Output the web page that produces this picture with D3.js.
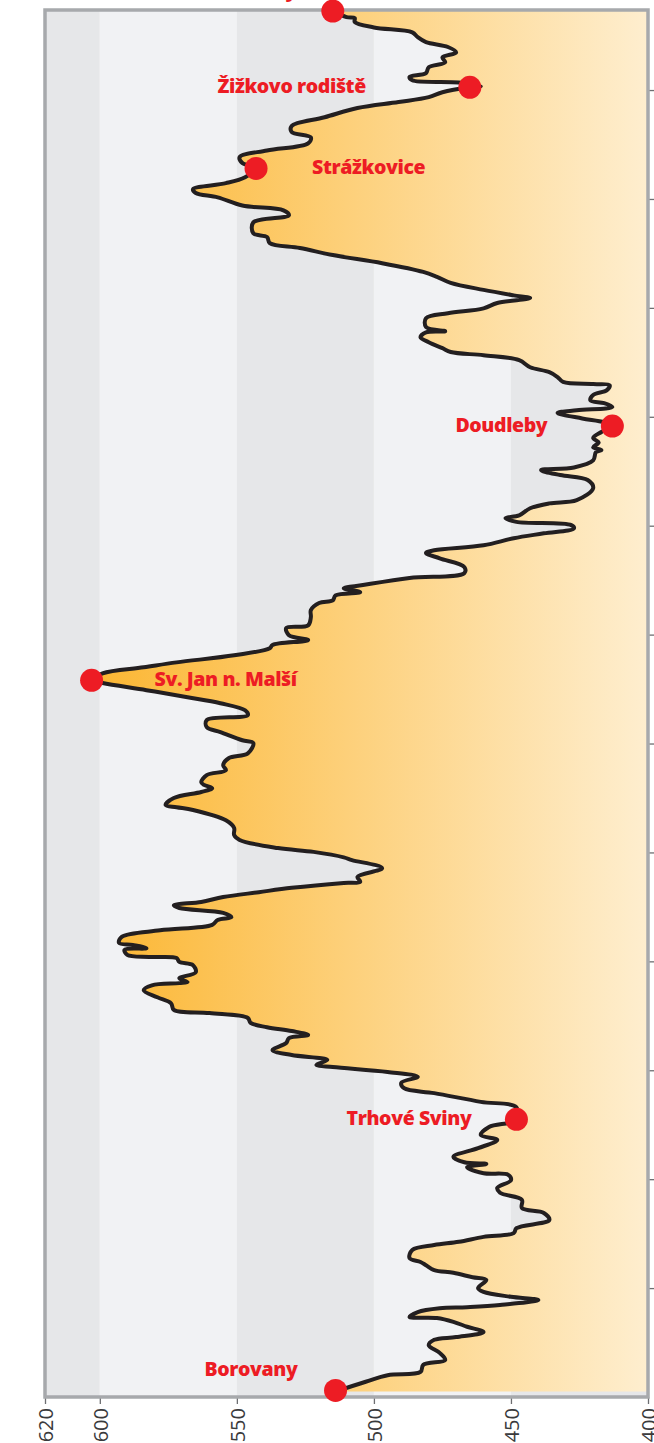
<!DOCTYPE html>
<html>
<head>
<meta charset="utf-8">
<script src="https://cdn.jsdelivr.net/npm/d3@7"></script>
<style>
    body { margin: 0; background: #fff; }
    svg { display: block; }
</style>
</head>
<body>
<svg id="chart"></svg>
<script>
// route profile: distance from Borovany (km) and elevation (m n. m.)
const profileKm = [
    0.10, 0.28, 0.40, 0.46, 0.59, 0.68, 0.81, 0.95, 1.05, 1.10, 1.19, 1.29, 1.38, 1.45, 1.47, 1.56,
    1.63, 1.65, 1.69, 1.78, 1.84, 1.93, 2.00, 2.15, 2.20, 2.28, 2.33, 2.42, 2.48, 2.55, 2.70, 2.79,
    2.85, 2.94, 3.01, 3.10, 3.25, 3.38, 3.47, 3.62, 3.75, 3.84, 3.98, 4.08, 4.11, 4.22, 4.28, 4.31,
    4.41, 4.57, 4.72, 4.81, 4.96, 5.09, 5.32, 5.42, 5.58, 5.67, 5.77, 5.88, 5.97, 6.06, 6.10, 6.19,
    6.28, 6.37, 6.50, 6.59, 6.65, 6.72, 6.79, 6.87, 6.96, 7.05, 7.11, 7.23, 7.34, 7.47, 7.56, 7.60,
    7.62, 7.69, 7.80, 7.93, 7.99, 8.06, 8.08, 8.12, 8.21, 8.24, 8.30, 8.34, 8.45, 8.57, 8.67, 8.76,
    8.81, 8.89, 8.98, 9.03, 9.09, 9.18, 9.27, 9.35, 9.44, 9.46, 9.55, 9.71, 9.86, 9.91, 10.01, 10.08,
    10.23, 10.32, 10.45, 10.59, 10.78, 10.83, 10.87, 11.00, 11.11, 11.18, 11.24, 11.29, 11.42, 11.51, 11.60, 11.73,
    11.82, 12.01, 12.06, 12.21, 12.30, 12.43, 12.52, 12.61, 12.74, 12.85, 12.98, 13.11, 13.16, 13.29, 13.40, 13.49,
    13.62, 13.75, 13.81, 13.90, 13.99, 14.12, 14.17, 14.32, 14.45, 14.58, 14.63, 14.72, 14.78, 14.85, 14.91, 15.04,
    15.13, 15.24, 15.40, 15.50, 15.55, 15.64, 15.77, 15.86, 15.95, 16.01, 16.07, 16.14, 16.19, 16.32, 16.41, 16.47,
    16.69, 16.84, 16.93, 17.02, 17.07, 17.20, 17.35, 17.39, 17.44, 17.53, 17.61, 17.72, 17.83, 17.90, 17.97, 18.07,
    18.12, 18.18, 18.25, 18.30, 18.40, 18.49, 18.58, 18.60, 18.64, 18.73, 18.82, 18.91, 19.04, 19.13, 19.19, 19.26,
    19.37, 19.46, 19.55, 19.57, 19.65, 19.81, 19.90, 19.99, 20.09, 20.18, 20.23, 20.33, 20.46, 20.57, 20.66, 20.82,
    20.97, 21.10, 21.19, 21.30, 21.37, 21.57, 21.70, 21.79, 21.88, 22.03, 22.11, 22.18, 22.29, 22.40, 22.56, 22.66,
    22.77, 22.89, 23.02, 23.13, 23.23, 23.34, 23.50, 23.67, 23.78, 23.87, 23.96, 24.05, 24.07, 24.14, 24.18, 24.24,
    24.31, 24.42, 24.51, 24.60, 24.69, 24.79, 24.88, 24.97, 25.06, 25.15, 25.25, 25.32, 25.34, 25.45
];
const profileElev = [
    514, 503, 495, 483, 482, 474, 476, 480, 478, 470, 460, 466, 471, 477, 487, 484,
    476, 466, 454, 440, 450, 460, 462, 459, 464, 471, 478, 481, 483, 487, 486, 478,
    469, 460, 449, 448, 436, 438, 446, 446, 454, 455, 450, 451, 460, 466, 459, 467,
    471, 462, 455, 461, 458, 448, 448, 461, 478, 489, 490, 484, 495, 515, 521, 517,
    530, 537, 532, 531, 524, 530, 539, 545, 546, 560, 573, 574, 579, 584, 581, 571,
    568, 571, 565, 566, 571, 572, 582, 590, 591, 583, 588, 593, 592, 578, 559, 557,
    552, 555, 571, 573, 563, 555, 542, 530, 511, 505, 506, 497, 508, 511, 522, 535,
    549, 551, 551, 554, 566, 572, 576, 573, 563, 559, 562, 563, 561, 554, 555, 553,
    546, 544, 548, 556, 561, 561, 546, 547, 556, 568, 583, 599, 603, 599, 584, 572,
    551, 538, 537, 524, 531, 532, 524, 523, 523, 520, 515, 514, 505, 511, 504, 487,
    467, 467, 476, 481, 478, 460, 449, 438, 427, 428, 448, 452, 447, 443, 436, 426,
    420, 422, 432, 439, 427, 420, 419, 417, 420, 418, 420, 417, 413, 416, 424, 433,
    426, 413, 416, 421, 420, 415, 414, 420, 431, 433, 436, 443, 447, 460, 472, 475,
    480, 483, 481, 474, 481, 481, 473, 460, 455, 443, 449, 460, 472, 477, 482, 497,
    515, 527, 538, 539, 544, 544, 531, 533, 548, 557, 565, 566, 554, 547, 543, 548,
    549, 539, 524, 523, 530, 530, 518, 506, 491, 480, 475, 465, 461, 469, 486, 487,
    481, 480, 474, 475, 470, 473, 481, 484, 486, 500, 507, 507, 510, 515
];

// places on the route
const townNames = ["Borovany", "Trhové Sviny", "Sv. Jan n. Malší", "Doudleby", "Strážkovice", "Žižkovo rodiště", "Borovany"];
const townKm = [0.12, 5.10, 13.16, 17.83, 22.56, 24.05, 25.45];
const townElev = [514, 448, 603, 413, 543, 465, 515];

// axes
const elevTicks = [620, 600, 550, 500, 450, 400];
const kmTicks = [2, 4, 6, 8, 10, 12, 14, 16, 18, 20, 22, 24];
const bandEdges = [620, 600, 550, 500, 450, 400];

// where each place label sits next to its dot
const labelAnchor = ["end", "end", "start", "end", "start", "end", "end"];
const labelDx = [-38, -45, 63, -65, 56, -104, -36];
const labelDy = [-14, 6, 6, 6, 6, 6, -14];

class ElevationProfile {
    constructor(config, svg) {
        this.width = config.width;
        this.height = config.height;
        this.left = config.left;
        this.right = config.right;
        this.top = config.top;
        this.bottom = config.bottom;
        this.svg = d3.select(svg);
        this.init();
    }

    init() {
        this.svg
            .attr("width", this.width)
            .attr("height", this.height)
            .attr("viewBox", [0, 0, this.width, this.height])
            .selectAll("*")
            .remove();

        const grad = this.svg.append("defs")
            .append("linearGradient")
            .attr("id", "fillGrad")
            .attr("gradientUnits", "userSpaceOnUse")
            .attr("x1", this.left).attr("x2", this.right)
            .attr("y1", 0).attr("y2", 0);
        grad.append("stop").attr("offset", 0).attr("stop-color", "#fbb124");
        grad.append("stop").attr("offset", 0.5).attr("stop-color", "#fdd07a");
        grad.append("stop").attr("offset", 1).attr("stop-color", "#feeecf");
    }

    update() {
        this.setScales()
            .drawBands()
            .drawArea()
            .drawAxes()
            .drawFrame()
            .drawLine()
            .drawTowns();
        return this;
    }

    setScales() {
        this.x = d3.scaleLinear([400, 620], [this.right, this.left]);
        this.y = d3.scaleLinear([0, 25.47], [this.bottom, this.top]);
        this.points = profileKm.map((k, i) => ({ km: k, elev: profileElev[i] }));
        // softer, hand-drawn look
        this.curve = d3.curveCatmullRom.alpha(0.5);
        return this;
    }

    drawBands() {
        const bands = d3.pairs(bandEdges);
        this.svg.append("g")
            .selectAll("rect")
            .data(bands)
            .join("rect")
                .attr("x", d => this.x(d[0]))
                .attr("width", d => this.x(d[1]) - this.x(d[0]))
                .attr("y", this.top)
                .attr("height", this.bottom - this.top)
                .attr("fill", (d, i) => i % 2 ? "#f1f2f4" : "#e6e7e9");
        return this;
    }

    drawArea() {
        const area = d3.area()
            .curve(this.curve)
            .y(d => this.y(d.km))
            .x0(this.x(400))
            .x1(d => this.x(d.elev));
        this.svg.append("path")
            .datum(this.points)
            .attr("d", area)
            .attr("fill", "url(#fillGrad)");
        return this;
    }

    drawAxes() {
        const xAxis = this.svg.append("g")
            .attr("transform", `translate(0, ${this.bottom})`)
            .call(d3.axisBottom(this.x).tickValues(elevTicks).tickSize(7));
        xAxis.select(".domain").remove();
        xAxis.selectAll("line").attr("stroke", "#6d6e71").attr("stroke-width", 1.3);
        xAxis.selectAll("text")
            .attr("transform", "rotate(-90)")
            .attr("x", -11)
            .attr("y", 0)
            .attr("dy", "0.36em")
            .style("text-anchor", "end")
            .style("font-family", "'Open Sans', sans-serif")
            .style("font-size", "20px")
            .attr("fill", "#3a3a3c");

        const yAxis = this.svg.append("g")
            .attr("transform", `translate(${this.right}, 0)`)
            .call(d3.axisRight(this.y).tickValues(kmTicks).tickSize(8).tickFormat(""));
        yAxis.select(".domain").remove();
        yAxis.selectAll("line").attr("stroke", "#6d6e71").attr("stroke-width", 1.3);
        return this;
    }

    drawFrame() {
        this.svg.append("rect")
            .attr("x", this.left)
            .attr("y", this.top)
            .attr("width", this.right - this.left)
            .attr("height", this.bottom - this.top)
            .attr("fill", "none")
            .attr("stroke", "#a7a9ac")
            .attr("stroke-width", 3.5);
        return this;
    }

    drawLine() {
        const line = d3.line()
            .curve(this.curve)
            .y(d => this.y(d.km))
            .x(d => this.x(d.elev));
        this.svg.append("path")
            .datum(this.points)
            .attr("d", line)
            .attr("fill", "none")
            .attr("stroke", "#231f20")
            .attr("stroke-width", 4)
            .attr("stroke-linejoin", "round")
            .attr("stroke-linecap", "round");
        return this;
    }

    drawTowns() {
        const towns = townNames.map((n, i) => ({ name: n, km: townKm[i], elev: townElev[i], i }));

        const g = this.svg.append("g")
            .selectAll("g.town")
            .data(towns)
            .join("g")
                .classed("town", true)
                .attr("transform", d => `translate(${this.x(d.elev)}, ${this.y(d.km)})`);

        g.append("circle")
            .attr("r", 11.5)
            .attr("fill", "#ed1c24");

        g.append("text")
            .attr("x", d => labelDx[d.i])
            .attr("y", d => labelDy[d.i])
            .attr("text-anchor", d => labelAnchor[d.i])
            .style("font-family", "'Open Sans', sans-serif")
            .style("font-weight", 800)
            .style("font-size", "19.5px")
            .style("letter-spacing", "-0.4px")
            .attr("fill", "#ed1c24")
            .text(d => d.name);
        return this;
    }
}

new ElevationProfile({
    width: 654, height: 1443,
    left: 45, right: 648, top: 10, bottom: 1397
}, "#chart").update();
</script>
</body>
</html>
